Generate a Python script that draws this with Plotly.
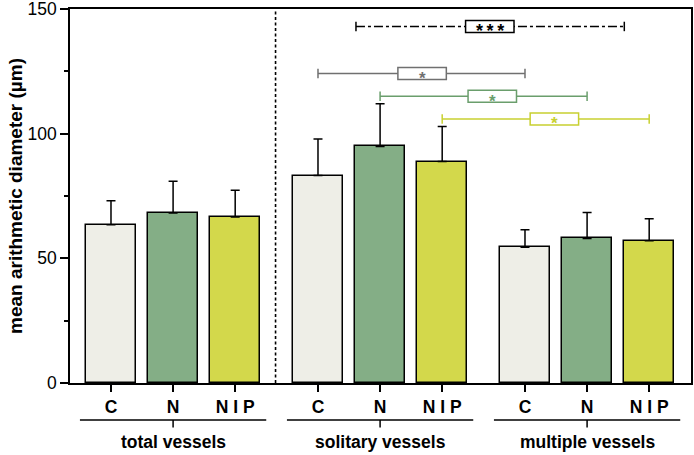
import plotly.graph_objects as go

# --- data ---
groups = ['total vessels', 'solitary vessels', 'multiple vessels']
treatments = ['C', 'N', 'N I P']
mean_C = [63.5, 83.2, 54.4]
mean_N = [68.2, 94.9, 58.0]
mean_NIP = [66.6, 88.8, 57.1]
sd_C = [9.6, 14.7, 7.1]
sd_N = [12.7, 17.1, 10.4]
sd_NIP = [10.7, 14.1, 8.8]

# significance brackets: from bar index to bar index (0..8), level, label
sig_from = [3.945, 3, 4, 5]
sig_to = [8.266, 6, 7, 8]
sig_level = [143.0, 124.1, 115.0, 105.9]
sig_label = ['***', '*', '*', '*']

FONT = 'Arial, Liberation Sans, sans-serif'
fills = ['#EEEEE7', '#84AE86', '#D3D84B']
sig_colors = ['black', '#707070', '#6A9E6C', '#C8D030']
sig_box_mid = [6.10, 5.01, 6.14, 7.14]

GAP = 1 / 3


def xpos(g, i):
    return g * (3 + GAP) + i


def bar_x(idx):
    # integer -> bar centre, fractional -> already an axis position
    if float(idx).is_integer():
        return xpos(int(idx) // 3, int(idx) % 3)
    return idx


fig = go.Figure()

for i, (means, sds) in enumerate(zip([mean_C, mean_N, mean_NIP], [sd_C, sd_N, sd_NIP])):
    fig.add_trace(go.Bar(
        x=[xpos(g, i) for g in range(3)], y=means, width=0.8,
        marker=dict(color=fills[i], line=dict(color='black', width=1.5)),
        error_y=dict(type='data', symmetric=False, array=sds, arrayminus=[0] * 3,
                     color='black', thickness=1.5, width=4.5),
        showlegend=False))

shapes = []
# dotted separator between total and the subgroups
shapes.append(dict(type='line', xref='x', yref='y', x0=2.65, x1=2.65, y0=0, y1=150,
                   line=dict(color='black', width=1.6, dash='3px,2.5px')))

for k in range(len(sig_label)):
    x0, x1, y = bar_x(sig_from[k]), bar_x(sig_to[k]), sig_level[k]
    col = sig_colors[k]
    dash = 'dashdot' if k == 0 else 'solid'
    shapes.append(dict(type='line', xref='x', yref='y', x0=x0, x1=x1, y0=y, y1=y,
                       line=dict(color=col, width=1.5, dash=dash)))
    for xe in (x0, x1):
        shapes.append(dict(type='line', xref='x', yref='y', x0=xe, x1=xe, y0=y - 1.9, y1=y + 1.9,
                           line=dict(color=col, width=1.5)))
    m = sig_box_mid[k]
    shapes.append(dict(type='rect', xref='x', yref='y', x0=m - 0.39, x1=m + 0.39,
                       y0=y - 2.4, y1=y + 2.4, fillcolor='white', line=dict(color=col, width=1.5)))
    label = sig_label[k] if k else '*\u2009*\u2009*'
    fig.add_annotation(x=m, y=y - 1.9, xref='x', yref='y', text='<b>%s</b>' % label,
                       showarrow=False, yanchor='middle',
                       font=dict(family=FONT, size=18 if k == 0 else 17, color=col))

# group brackets below the axis
for g, name in enumerate(groups):
    xa, xb = xpos(g, 0) - 0.5, xpos(g, 2) + 0.5
    shapes.append(dict(type='line', xref='x', yref='paper', x0=xa, x1=xb, y0=-0.099, y1=-0.099,
                       line=dict(color='black', width=1.5)))
    shapes.append(dict(type='line', xref='x', yref='paper', x0=xpos(g, 1), x1=xpos(g, 1),
                       y0=-0.099, y1=-0.119, line=dict(color='black', width=1.5)))
    fig.add_annotation(x=xpos(g, 1), y=-0.158, xref='x', yref='paper', text='<b>%s</b>' % name,
                       showarrow=False, yanchor='middle',
                       font=dict(family=FONT, size=17.5, color='black'))

# y-axis title
fig.add_annotation(x=-0.0886, y=0.5, xref='paper', yref='paper', textangle=-90,
                   text='<b>mean arithmetic diameter (µm)</b>', showarrow=False,
                   xanchor='center', yanchor='middle',
                   font=dict(family=FONT, size=19, color='black'))

tick_x = [xpos(g, i) for g in range(3) for i in range(3)]
tick_t = ['<b>%s</b>' % t for g in range(3) for t in treatments]

fig.update_layout(
    width=694, height=455,
    margin=dict(l=70, r=3, t=9, b=72),
    plot_bgcolor='white', paper_bgcolor='white',
    shapes=shapes,
    bargap=0,
    xaxis=dict(range=[-0.66, 9.34], tickvals=tick_x, ticktext=tick_t, ticks='outside',
               ticklen=7, tickwidth=1.5, tickcolor='black', showline=True, linecolor='black',
               linewidth=1.5, mirror=True, showgrid=False, zeroline=False, automargin=False,
               tickfont=dict(family=FONT, size=17.5, color='black')),
    yaxis=dict(range=[0, 150], tickvals=[0, 50, 100, 150], ticks='outside', ticklen=8,
               tickwidth=1.5, tickcolor='black', showline=True, linecolor='black',
               linewidth=1.5, mirror=True, showgrid=False, zeroline=False, automargin=False,
               ticklabeloverflow='allow',
               minor=dict(tickvals=[25, 75, 125], ticks='outside', ticklen=4, tickwidth=1.5,
                          tickcolor='black', showgrid=False),
               tickfont=dict(family=FONT, size=17.5, color='black'),
               tickprefix='<b>', ticksuffix='</b>'),
)

fig.write_html('out.html', config={'displayModeBar': False},
               post_script="document.body.style.margin='0';")
